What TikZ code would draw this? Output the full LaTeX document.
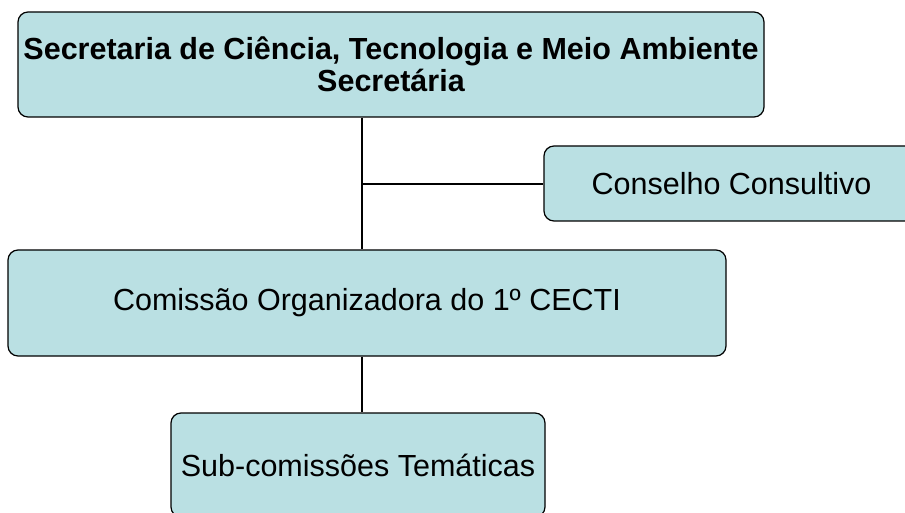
\documentclass[tikz,border=0pt]{standalone}
\usepackage{fontspec}
\setmainfont{Liberation Sans}
\usepackage{tikz}
\usetikzlibrary{positioning}
\definecolor{boxfill}{HTML}{BAE0E3}

\begin{document}
\begin{tikzpicture}[
x=1pt,y=-1pt,
OrgBox/.style={draw=black,fill=boxfill,line width=1.2pt,rounded corners=10pt,inner sep=0pt,align=center},
Links/.style={draw=black,line width=1.2pt},
every node/.style={font=\fontsize{30.5}{32}\selectfont}
]
\useasboundingbox (0,0) rectangle (905,513);
\clip (0,0) rectangle (905,513);

\coordinate (J) at (362,184);

\node[OrgBox,minimum width=746pt,minimum height=105pt,font=\fontsize{30.5}{32}\selectfont\bfseries] (sec) at (391,64.5) {Secretaria de Ciência, Tecnologia e Meio Ambiente\\Secretária};
\node[OrgBox,minimum width=375pt,minimum height=75pt] (cons) at (731.5,183.5) {Conselho Consultivo};
\node[OrgBox,minimum width=718pt,minimum height=106pt] (com) at (367,303) {Comissão Organizadora do 1º CECTI};
\node[OrgBox,minimum width=374pt,minimum height=104pt] (sub) at (358,465) {Sub-comissões Temáticas};

\draw[Links] (sec.south -| J) -- (com.north -| J);
\draw[Links] (J) -- (cons.west |- J);
\draw[Links] (com.south -| J) -- (sub.north -| J);

\end{tikzpicture}
\end{document}
